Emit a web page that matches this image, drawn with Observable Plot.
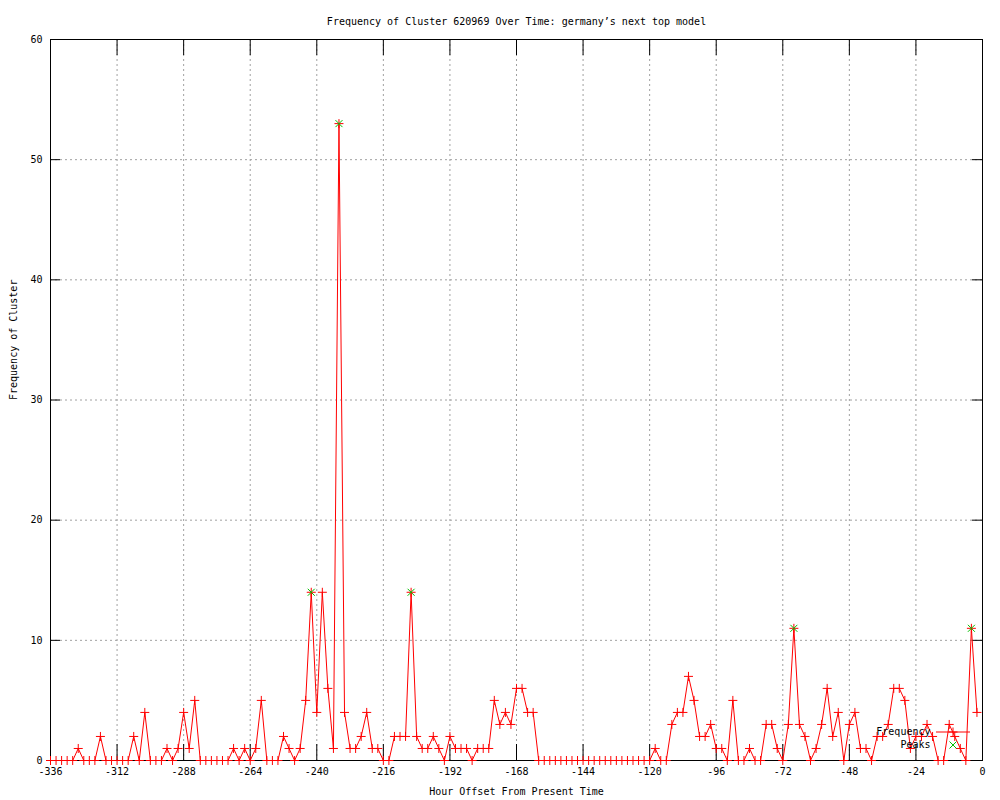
<!DOCTYPE html>
<html><head><meta charset="utf-8">
<script src="https://cdn.jsdelivr.net/npm/d3@7"></script>
<script src="https://cdn.jsdelivr.net/npm/@observablehq/plot@0.6"></script>
<style>body{margin:0;background:#fff}</style>
</head><body><div id="chart"></div>
<script>
const title = "Frequency of Cluster 620969 Over Time: germany\u2019s next top model";
const xLabel = "Hour Offset From Present Time";
const yLabel = "Frequency of Cluster";
const legendLabels = ["Frequency", "Peaks"];

const hours = [
-336,-334,-332,-330,-328,-326,-324,-322,-320,-318,-316,-314,
-312,-310,-308,-306,-304,-302,-300,-298,-296,-294,-292,-290,
-288,-286,-284,-282,-280,-278,-276,-274,-272,-270,-268,-266,
-264,-262,-260,-258,-256,-254,-252,-250,-248,-246,-244,-242,
-240,-238,-236,-234,-232,-230,-228,-226,-224,-222,-220,-218,
-216,-214,-212,-210,-208,-206,-204,-202,-200,-198,-196,-194,
-192,-190,-188,-186,-184,-182,-180,-178,-176,-174,-172,-170,
-168,-166,-164,-162,-160,-158,-156,-154,-152,-150,-148,-146,
-144,-142,-140,-138,-136,-134,-132,-130,-128,-126,-124,-122,
-120,-118,-116,-114,-112,-110,-108,-106,-104,-102,-100,-98,
-96,-94,-92,-90,-88,-86,-84,-82,-80,-78,-76,-74,
-72,-70,-68,-66,-64,-62,-60,-58,-56,-54,-52,-50,
-48,-46,-44,-42,-40,-38,-36,-34,-32,-30,-28,-26,
-24,-22,-20,-18,-16,-14,-12,-10,-8,-6,-4,-2];

const freq = [
0,0,0,0,0,1,0,0,0,2,0,0,
0,0,0,2,0,4,0,0,0,1,0,1,
4,1,5,0,0,0,0,0,0,1,0,1,
0,1,5,0,0,0,2,1,0,1,5,14,
4,14,6,1,53,4,1,1,2,4,1,1,
0,0,2,2,2,14,2,1,1,2,1,0,
2,1,1,1,0,1,1,1,5,3,4,3,
6,6,4,4,0,0,0,0,0,0,0,0,
0,0,0,0,0,0,0,0,0,0,0,0,
0,1,0,0,3,4,4,7,5,2,2,3,
1,1,0,5,0,0,1,0,0,3,3,1,
0,3,11,3,2,0,1,3,6,2,4,0,
3,4,1,1,0,2,2,3,6,6,5,1,
2,2,3,2,0,0,3,2,1,0,11,4];

const peakHours = [-242, -232, -206, -68, -4];
const peakFreq  = [14, 53, 14, 11, 11];

const xTicks = [-336,-312,-288,-264,-240,-216,-192,-168,-144,-120,-96,-72,-48,-24,0];
const yTicks = [0,10,20,30,40,50,60];

const data = hours.map((h, i) => ({hour: h, freq: freq[i]}));
const peaks = peakHours.map((h, i) => ({hour: h, freq: peakFreq[i]}));

const plusSym = {draw(ctx, size) {const r = Math.sqrt(size / Math.PI); ctx.moveTo(-r, 0); ctx.lineTo(r, 0); ctx.moveTo(0, -r); ctx.lineTo(0, r);}};
const crossSym = {draw(ctx, size) {const r = Math.sqrt(size / Math.PI); ctx.moveTo(-r, -r); ctx.lineTo(r, r); ctx.moveTo(-r, r); ctx.lineTo(r, -r);}};

const W = 1000, H = 800, ML = 50, MR = 18, MT = 39, MB = 40;
const fw = W - ML - MR, fh = H - MT - MB;
const gridStyle = {stroke: "#a0a0a0", strokeDasharray: "2,3", strokeWidth: 1};

const chart = Plot.plot({
  width: W, height: H,
  marginLeft: ML, marginRight: MR, marginTop: MT, marginBottom: MB,
  x: {domain: [-336, 0], axis: null},
  y: {domain: [0, 60], axis: null},
  style: {fontFamily: "'DejaVu Sans Mono', monospace", fontSize: "10px", background: "#fff", color: "#000"},
  marks: [
    Plot.ruleX(xTicks.slice(1, -1), {x: d => d, ...gridStyle}),
    Plot.ruleY(yTicks.slice(1, -1), {y: d => d, ...gridStyle}),
    Plot.ruleX(xTicks, {x: d => d, insetTop: fh - 16, stroke: "#000"}),
    Plot.ruleX(xTicks, {x: d => d, insetBottom: fh - 16, stroke: "#000"}),
    Plot.ruleY(yTicks, {y: d => d, insetRight: fw - 10, stroke: "#000"}),
    Plot.ruleY(yTicks, {y: d => d, insetLeft: fw - 10, stroke: "#000"}),
    Plot.frame({stroke: "#000"}),
    Plot.line(data, {x: "hour", y: "freq", stroke: "#ff0000", strokeWidth: 1}),
    Plot.dot(data, {x: "hour", y: "freq", symbol: plusSym, r: 4.5, stroke: "#ff0000", fill: "none", strokeWidth: 1}),
    Plot.dot(peaks, {x: "hour", y: "freq", symbol: crossSym, r: 3.5, stroke: "#00c000", fill: "none", strokeWidth: 1}),
    Plot.text(xTicks, {x: d => d, frameAnchor: "bottom", dy: 14, text: d => String(d)}),
    Plot.text(yTicks, {y: d => d, frameAnchor: "left", dx: -8, textAnchor: "end", text: d => String(d)}),
    Plot.text([title], {frameAnchor: "top", dy: -22, text: d => d}),
    Plot.text([xLabel], {frameAnchor: "bottom", dy: 34, text: d => d}),
    Plot.text([yLabel], {frameAnchor: "left", dx: -37, rotate: -90, text: d => d}),
    Plot.text([legendLabels[0]], {frameAnchor: "bottom-right", dx: -52, dy: -26, textAnchor: "end", text: d => d}),
    Plot.text([legendLabels[1]], {frameAnchor: "bottom-right", dx: -52, dy: -13, textAnchor: "end", text: d => d})
  ]
});

// legend samples
const svg = d3.select(chart);
const lx0 = W - MR - 46, lx1 = W - MR - 12, ly1 = H - MB - 28, ly2 = H - MB - 15;
const lg = svg.append("g").attr("fill", "none").attr("stroke-width", 1);
lg.append("line").attr("x1", lx0).attr("x2", lx1).attr("y1", ly1).attr("y2", ly1).attr("stroke", "#ff0000");
const cx = (lx0 + lx1) / 2;
lg.append("path").attr("d", `M${cx-4.5},${ly1}H${cx+4.5}M${cx},${ly1-4.5}V${ly1+4.5}`).attr("stroke", "#ff0000");
lg.append("path").attr("d", `M${cx-3.5},${ly2-3.5}L${cx+3.5},${ly2+3.5}M${cx-3.5},${ly2+3.5}L${cx+3.5},${ly2-3.5}`).attr("stroke", "#00c000");

document.getElementById("chart").appendChild(chart);
</script>
</body></html>
